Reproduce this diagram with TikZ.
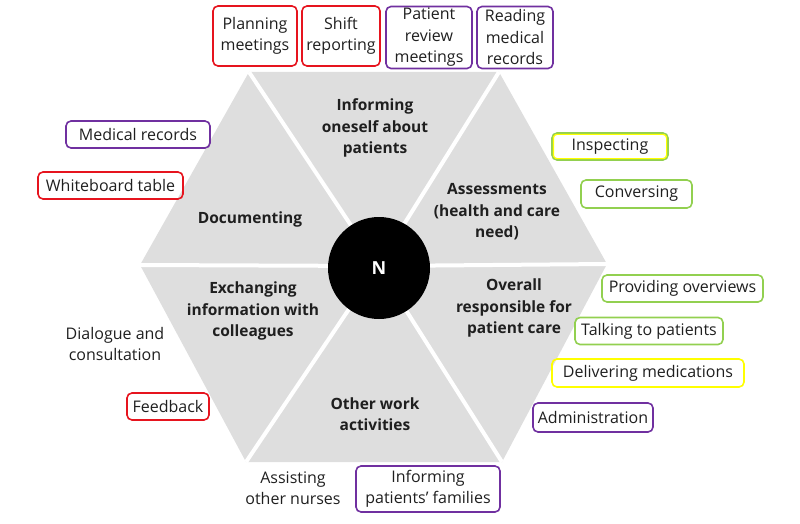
\documentclass[tikz,border=0pt]{standalone}
\usepackage{fontspec}
\setmainfont{Open Sans}
\definecolor{hexgray}{RGB}{222,222,222}
\definecolor{bred}{RGB}{230,20,30}
\definecolor{bpurple}{RGB}{112,48,160}
\definecolor{bgreen}{RGB}{146,208,80}
\definecolor{byellow}{RGB}{255,255,0}
\tikzset{
  lbl/.style={align=center,font=\fontsize{16}{21.5}\selectfont,inner sep=0pt,text=black!88},
  box/.style={lbl,draw,rounded corners=5pt,line width=1.6pt},
  sector/.style={align=center,font=\fontsize{15.5}{21.5}\selectfont\bfseries,inner sep=0pt,text=black!88},
  gap/.style={white,line width=4pt}
}
\begin{document}
\begin{tikzpicture}[x=1pt,y=-1pt]
\useasboundingbox (0,0) rectangle (800,524);
% hexagon
\coordinate (L) at (140,265);
\coordinate (TL) at (249,72);
\coordinate (TR) at (499,72);
\coordinate (R) at (607,264);
\coordinate (BR) at (502,462);
\coordinate (BL) at (246,462);
\coordinate (C) at (378,266);
\fill[hexgray] (L) -- (TL) -- (TR) -- (R) -- (BR) -- (BL) -- cycle;
\foreach \v in {L,TL,TR,R,BR,BL} \draw[gap] (C) -- (\v);
\node[circle,fill=black,minimum size=102pt,inner sep=0pt,text=white,font=\fontsize{18}{20}\selectfont\bfseries] (N) at (379,268) {N};
% sector labels
\node[sector] (s1) at (375,128) {Informing\\oneself about\\patients};
\node[sector] (s2) at (497,212) {Assessments\\(health and care\\need)};
\node[sector] (s3) at (514,308) {Overall\\responsible for\\patient care};
\node[sector] (s4) at (375,414) {Other work\\activities};
\node[sector] (s5) at (253,311) {Exchanging\\information with\\colleagues};
\node[sector] (s6) at (250,219) {Documenting};
% top boxes
\node[box,draw=bred,minimum width=84pt,minimum height=60pt] (b1) at (255,36) {Planning\\meetings};
\node[box,draw=bred,minimum width=78pt,minimum height=60pt] (b2) at (341,36) {Shift\\reporting};
\node[box,draw=bpurple,minimum width=86pt,minimum height=62pt] (b3) at (429,37.5) {Patient\\review\\meetings};
\node[box,draw=bpurple,minimum width=76pt,minimum height=62pt] (b4) at (515,37.5) {Reading\\medical\\records};
% left
\node[box,draw=bpurple,minimum width=144pt,minimum height=27pt] (b5) at (138,134.5) {Medical records};
\node[box,draw=bred,minimum width=145pt,minimum height=27pt] (b6) at (110.5,185.5) {Whiteboard table};
\node[lbl] (t1) at (115,344) {Dialogue and\\consultation};
\node[box,draw=bred,minimum width=82pt,minimum height=27pt] (b7) at (168,406.5) {Feedback};
% right
\node[box,draw=bgreen,minimum width=116pt,minimum height=27pt] (b8) at (610,146.5) {Inspecting};
\draw[byellow,line width=1.2pt,rounded corners=3.5pt] ([shift={(2.2pt,2.2pt)}]b8.south west) rectangle ([shift={(-2.2pt,-2.2pt)}]b8.north east);
\node[box,draw=bgreen,minimum width=111pt,minimum height=28pt] (b9) at (636.5,194) {Conversing};
\node[box,draw=bgreen,minimum width=161pt,minimum height=27pt] (b10) at (682.5,288.5) {Providing overviews};
\node[box,draw=bgreen,minimum width=148pt,minimum height=27pt] (b11) at (649,331) {Talking to patients};
\node[box,draw=byellow,minimum width=192pt,minimum height=28pt] (b12) at (648,373) {Delivering medications};
\node[box,draw=bpurple,minimum width=120pt,minimum height=29pt] (b13) at (593,417.5) {Administration};
% bottom
\node[lbl] (t2) at (293,488) {Assisting\\other nurses};
\node[box,draw=bpurple,minimum width=144pt,minimum height=46pt] (b14) at (428,489) {Informing\\patients’ families};
\end{tikzpicture}
\end{document}
